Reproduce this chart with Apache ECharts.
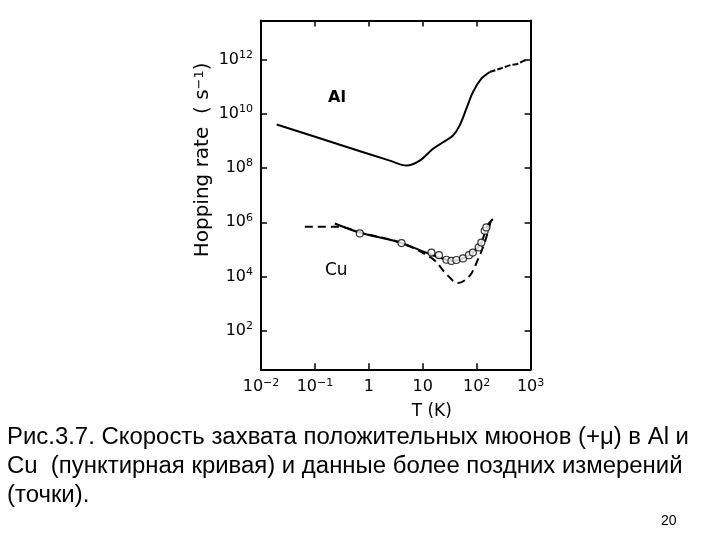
<!DOCTYPE html>
<html>
<head>
<meta charset="utf-8">
<script src="https://cdn.jsdelivr.net/npm/echarts@6/dist/echarts.min.js"></script>
<style>html,body{margin:0;padding:0;background:#fff}#c{width:720px;height:540px}</style>
</head>
<body>
<div id="c"></div>
<script>
// ---- data (T in K, hopping rate in s^-1) ----
var alT      = [0.0195, 0.29, 2.45, 5.0, 8.8, 15.5, 23.8, 36.4, 48.4, 64.4, 85.3, 122, 174];
var alRate   = [4.0e9, 7.2e8, 1.87e8, 1.23e8, 1.87e8, 5.1e8, 8.9e8, 1.57e9, 3.7e9, 1.52e10, 6.2e10, 1.94e11, 3.4e11];
var alHiT    = [174, 267, 408, 582, 720, 891];
var alHiRate = [3.4e11, 4.5e11, 6.0e11, 6.9e11, 8.6e11, 9.75e11];

var cuDashT    = [0.065, 0.29, 0.68, 3.75, 15.3, 27.5, 45, 74, 106, 141, 187];
var cuDashRate = [6.9e5, 6.9e5, 4.2e5, 1.81e5, 4.5e4, 1.24e4, 5.8e3, 1.07e4, 4.4e4, 1.81e5, 1.32e6];

var cuFitT    = [0.234, 0.68, 3.75, 13.5, 27.5, 38, 55, 85, 122, 155, 200];
var cuFitRate = [9.1e5, 4.2e5, 1.81e5, 6.8e4, 4.2e4, 3.8e4, 4.7e4, 7.7e4, 1.8e5, 7.0e5, 1.32e6];

var cuPtT    = [0.68, 4.04, 14.5, 20, 27.5, 34, 42, 55.7, 72, 85, 109, 122, 141, 151];
var cuPtRate = [3.9e5, 1.72e5, 7.7e4, 6.2e4, 4.2e4, 3.8e4, 4.1e4, 4.7e4, 6.2e4, 7.7e4, 1.19e5, 1.8e5, 4.9e5, 6.5e5];

var xTickValues = [0.01, 0.1, 1, 10, 100, 1000];
var xTickLabels = [['10','−2'], ['10','−1'], ['1',''], ['10',''], ['10','2'], ['10','3']];
var yTickValues = [1e2, 1e4, 1e6, 1e8, 1e10, 1e12];
var yTickLabels = [['10','2'], ['10','4'], ['10','6'], ['10','8'], ['10','10'], ['10','12']];

var captionLines = [
  'Рис.3.7. Скорость захвата положительных мюонов (+μ) в Al и',
  'Cu  (пунктирная кривая) и данные более поздних измерений',
  '(точки).'
];

function pairs(xs, ys) { return xs.map(function (x, i) { return [x, ys[i]]; }); }
function fmt(values, labels) {
  return function (v) {
    var best = 0, bd = Infinity;
    for (var i = 0; i < values.length; i++) {
      var d = Math.abs(Math.log10(values[i]) - Math.log10(v));
      if (d < bd) { bd = d; best = i; }
    }
    var l = labels[best];
    return '{n|' + l[0] + '}' + (l[1] ? '{s|' + l[1] + '}' : '');
  };
}
var FONT = 'DejaVu Sans';
var rich = {
  n: { fontSize: 16, fontFamily: FONT, color: '#000', lineHeight: 20 },
  s: { fontSize: 11, fontFamily: FONT, color: '#000', lineHeight: 11, verticalAlign: 'top' }
};
var lineAx = { lineStyle: { color: '#000', width: 2 } };
var capStyle = { fontFamily: 'Liberation Sans', fontSize: 23, fill: '#000', align: 'left', verticalAlign: 'top' };

var chart = echarts.init(document.getElementById('c'), null, { renderer: 'canvas' });
chart.setOption({
  backgroundColor: '#fff',
  animation: false,
  grid: { left: 261, right: 189.4, top: 20.5, bottom: 170.7, containLabel: false },
  xAxis: [{
    type: 'log', logBase: 10, min: 0.01, max: 1000, position: 'bottom',
    axisLine: lineAx,
    axisTick: { inside: true, length: 6, lineStyle: { color: '#000', width: 1.5 }, customValues: xTickValues },
    axisLabel: { customValues: xTickValues, formatter: fmt(xTickValues, xTickLabels), rich: rich, margin: 8 },
    splitLine: { show: false }, minorTick: { show: false },
    name: 'T (K)', nameLocation: 'middle', nameGap: 34,
    nameTextStyle: { fontFamily: FONT, fontSize: 17, color: '#000', padding: [0, 0, 0, 72] }
  }, {
    type: 'log', logBase: 10, min: 0.01, max: 1000, position: 'top',
    axisLine: lineAx,
    axisTick: { inside: true, length: 6, lineStyle: { color: '#000', width: 1.5 }, customValues: xTickValues },
    axisLabel: { show: false }, splitLine: { show: false }
  }],
  yAxis: [{
    type: 'log', logBase: 10, min: Math.pow(10, 0.59), max: Math.pow(10, 13.43), position: 'left',
    axisLine: lineAx,
    axisTick: { inside: true, length: 6, lineStyle: { color: '#000', width: 1.5 }, customValues: yTickValues },
    axisLabel: { customValues: yTickValues, formatter: fmt(yTickValues, yTickLabels), rich: rich, margin: 8 },
    splitLine: { show: false }, minorTick: { show: false },
    name: 'Hopping rate  ( s{s|−1})', nameLocation: 'middle', nameGap: 48,
    nameTextStyle: { fontFamily: FONT, fontSize: 20, color: '#000', padding: [0, 0, 0, 70],
      rich: { s: { fontSize: 13, fontFamily: FONT, color: '#000', lineHeight: 13, verticalAlign: 'top' } } }
  }, {
    type: 'log', logBase: 10, min: Math.pow(10, 0.59), max: Math.pow(10, 13.43), position: 'right',
    axisLine: lineAx,
    axisTick: { inside: true, length: 6, lineStyle: { color: '#000', width: 1.5 }, customValues: yTickValues },
    axisLabel: { show: false }, splitLine: { show: false }
  }],
  series: [
    { type: 'line', data: pairs(alT, alRate), smooth: 0.35, showSymbol: false,
      lineStyle: { color: '#000', width: 2 } },
    { type: 'line', data: pairs(alHiT, alHiRate), smooth: 0.3, showSymbol: false,
      lineStyle: { color: '#000', width: 2, type: [6, 2] } },
    { type: 'line', data: pairs(cuDashT, cuDashRate), smooth: 0.35, showSymbol: false,
      lineStyle: { color: '#000', width: 2, type: [8, 5] } },
    { type: 'line', data: pairs(cuFitT, cuFitRate), smooth: 0.35, showSymbol: false,
      lineStyle: { color: '#000', width: 2 } },
    { type: 'scatter', data: pairs(cuPtT, cuPtRate), symbol: 'circle', symbolSize: 7,
      itemStyle: { color: '#fff', borderColor: '#000', borderWidth: 1.2 }, z: 5 }
  ],
  graphic: [
    { type: 'text', left: 328, top: 90, style: { text: 'Al', fontFamily: FONT, fontSize: 16, fontWeight: 'bold', fill: '#000' } },
    { type: 'text', left: 325, top: 262, style: { text: 'Cu', fontFamily: FONT, fontSize: 17, fill: '#000' } },
    { type: 'text', x: 7, y: 426, scaleX: 1.04, style: Object.assign({ text: captionLines[0] }, capStyle) },
    { type: 'text', x: 7, y: 455, scaleX: 1.04, style: Object.assign({ text: captionLines[1] }, capStyle) },
    { type: 'text', x: 7, y: 484, scaleX: 1.04, style: Object.assign({ text: captionLines[2] }, capStyle) },
    { type: 'text', left: 661, top: 514, style: { text: '20', fontFamily: 'Liberation Sans', fontSize: 14, fill: '#000' } }
  ]
});
</script>
</body>
</html>
